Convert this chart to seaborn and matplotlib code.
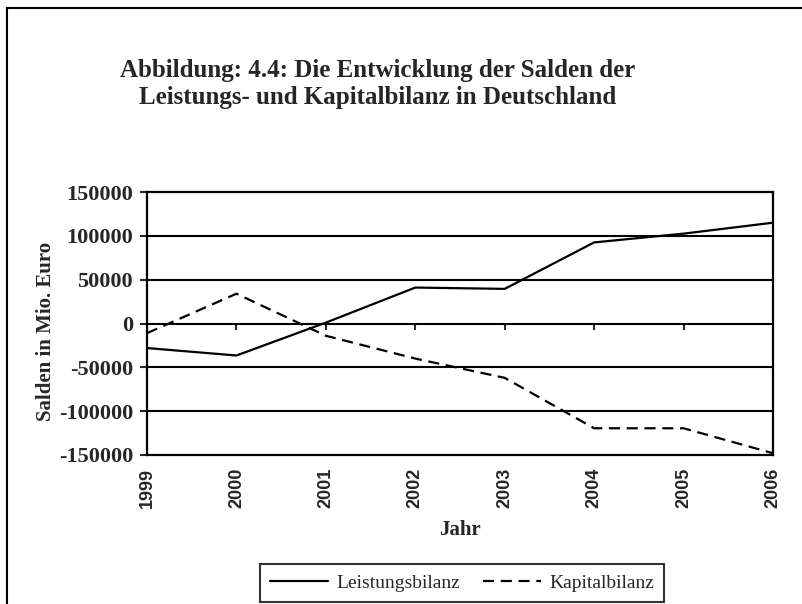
import matplotlib
matplotlib.use("Agg")
import matplotlib.pyplot as plt
from matplotlib.patches import Rectangle
import seaborn as sns
import pandas as pd

years = [1999, 2000, 2001, 2002, 2003, 2004, 2005, 2006]
leistungsbilanz = [-28000, -36500, 1000, 41000, 39500, 92500, 102500, 115000]
kapitalbilanz = [-11000, 34000, -14000, -40000, -62000, -119500, -119500, -148000]
series_names = ["Leistungsbilanz", "Kapitalbilanz"]
yticks = [-150000, -100000, -50000, 0, 50000, 100000, 150000]

title = "Abbildung: 4.4: Die Entwicklung der Salden der\nLeistungs- und Kapitalbilanz in Deutschland"
ylabel = "Salden in Mio. Euro"
xlabel = "Jahr"

df = pd.DataFrame({
    "Jahr": years * 2,
    "Wert": leistungsbilanz + kapitalbilanz,
    "Reihe": [series_names[0]] * len(years) + [series_names[1]] * len(years),
})

sns.set_style("white")
plt.rcParams["font.family"] = ["Liberation Serif", "DejaVu Serif"]

fig = plt.figure(figsize=(8.02, 6.04), dpi=100)
ax = fig.add_axes([147 / 802, 1 - 455 / 604, (773 - 147) / 802, (455 - 192) / 604])

sns.lineplot(data=df, x="Jahr", y="Wert", hue="Reihe", style="Reihe",
             palette=["black", "black"],
             dashes={series_names[0]: "", series_names[1]: (5, 3)},
             linewidth=1.6, ax=ax, legend=False, zorder=3)

ax.set_xlim(years[0], years[-1])
ax.set_ylim(yticks[0], yticks[-1])
ax.set_yticks(yticks)
ax.set_yticklabels([str(v) for v in yticks], fontsize=16, fontweight="bold")
for v in yticks[1:-1]:
    ax.axhline(v, color="black", lw=1.5, zorder=1)

ax.set_xticks(years)
ax.set_xticklabels([str(y) for y in years], rotation=90, fontsize=13,
                   fontweight="bold", family="Liberation Sans")
ax.tick_params(axis="x", length=0, pad=9)
ax.tick_params(axis="y", length=5, width=1.5, direction="out", pad=5, left=True)

sec = ax.secondary_xaxis(0.5)
sec.xaxis.set_ticks_position("bottom")
sec.set_xticks(years[1:-1])
sec.set_xticklabels([])
sec.tick_params(axis="x", length=4, width=1.5, direction="out",
                labelbottom=False, labeltop=False)
for s in sec.spines.values():
    s.set_visible(False)

for s in ax.spines.values():
    s.set_color("black")
    s.set_linewidth(1.6)

ax.set_xlabel(xlabel, fontsize=15, fontweight="bold", labelpad=9)
ax.set_ylabel(ylabel, fontsize=15, fontweight="bold")
ax.yaxis.set_label_coords(-0.145, 0.468)

fig.text(378 / 802, 1 - 84 / 604, title, ha="center", va="center",
         fontsize=18, fontweight="bold", linespacing=1.2)

handles = [plt.Line2D([], [], color="black", lw=1.6),
           plt.Line2D([], [], color="black", lw=1.6, dashes=(5, 3))]
leg = fig.legend(handles, series_names, loc="center",
                 bbox_to_anchor=(462 / 802, 1 - 583 / 604),
                 ncol=2, frameon=True, fontsize=14, handlelength=3.0,
                 columnspacing=1.2, handletextpad=0.4, fancybox=False,
                 borderpad=0.5)
leg.get_frame().set_edgecolor("black")
leg.get_frame().set_linewidth(1.5)

fig.patches.append(Rectangle((7 / 802, -0.1), 1.2, 1.1 - 8 / 604,
                             transform=fig.transFigure, fill=False,
                             edgecolor="black", lw=1.5))

fig.savefig("out.png", dpi=100)
